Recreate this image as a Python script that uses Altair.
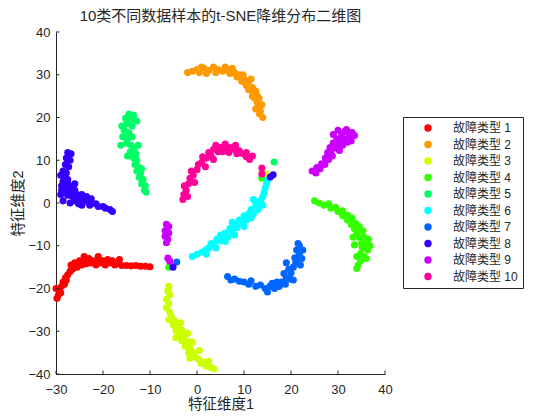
import altair as alt
import pandas as pd

# ---- data (t-SNE coordinates per fault class) ----
class_names = ["故障类型 1", "故障类型 2", "故障类型 3", "故障类型 4", "故障类型 5",
               "故障类型 6", "故障类型 7", "故障类型 8", "故障类型 9", "故障类型 10"]
class_colors = ["#ff0000", "#ff9900", "#ccff00", "#33ff00", "#00ff66",
                "#00ffff", "#0066ff", "#3300ff", "#cc00ff", "#ff0099"]

c1 = [(-29.5, -21.5), (-29.3, -20.5), (-29, -21), (-28.8, -19.5), (-28.5, -18.5), (-28.2, -19),
      (-28, -17.5), (-27.5, -16.8), (-27.8, -18), (-27, -16), (-26.5, -15.5), (-26.8, -14.5),
      (-26, -14), (-25.5, -15), (-25, -13.5), (-24.5, -14.5), (-24, -13.2), (-23.5, -14.2),
      (-23, -13), (-22.5, -14), (-22, -13.5), (-21.5, -14.5), (-21, -13.2), (-20.5, -14),
      (-20, -13.5), (-19.5, -14.5), (-19, -13.2), (-18.5, -14), (-18, -13.5), (-17.5, -14.5),
      (-17, -14.2), (-16, -14.6), (-15, -14.6), (-14, -14.7), (-13, -14.6), (-12, -14.8),
      (-11, -14.8), (-10, -14.9), (-30, -20), (-29.8, -22.3), (-24, -12.5), (-21, -12.5),
      (-16.5, -13.2)]
c2 = [(-2, 30.5), (-1, 30.8), (0, 31.2), (0.5, 30.5), (1.5, 31.5), (2.5, 31), (3.5, 31.8),
      (4.5, 31.2), (5.5, 30.8), (6.5, 31.2), (7, 30.3), (8, 30.5), (8.5, 29.5), (9, 30),
      (9.5, 28.5), (10, 29), (10.5, 27.5), (11, 28.5), (11, 26.5), (11.8, 27), (12, 25.5),
      (12.5, 26.2), (12.3, 24.5), (12.8, 23.5), (13, 22.5), (13.5, 21.5), (13.3, 20.8), (14, 20),
      (1, 31.8), (2, 30.3), (4, 30.5), (6, 31.8), (7.5, 31.5), (9.8, 30), (10.3, 28),
      (11.5, 29), (11.8, 25), (12.8, 25), (12.5, 22), (13.8, 23), (13.2, 24.5)]
c3 = [(-6, -19.5), (-6.2, -20.5), (-5.8, -21.5), (-6.5, -22.5), (-6, -23.5), (-6.5, -24.5),
      (-5.8, -25.5), (-5.5, -26.5), (-6, -27.3), (-4.8, -27.5), (-5, -28.5), (-4, -28.8),
      (-4.5, -29.8), (-3.2, -29.8), (-3.8, -31), (-2.8, -31.2), (-3.2, -32.3), (-2, -32.5),
      (-2.5, -33.5), (-1.5, -33.8), (-1.8, -35), (-0.8, -35), (-0.5, -36), (0.3, -36.5),
      (0.8, -37.5), (1.5, -37.2), (2, -38.2), (3, -38.5), (3.6, -38.8), (14.7, 6.8),
      (-3.5, -28), (-2, -30.5), (-1, -32.5), (-4.5, -31.5), (0.5, -34.5), (-1.5, -36.3),
      (2.5, -37)]
c4 = [(25, 0.5), (26, 0), (27, -0.5), (28, -0.2), (28.5, -1.2), (29.5, -1), (30, -2), (31, -1.8),
      (31, -3), (32, -2.8), (32, -4), (33, -3.5), (32.8, -5), (33.8, -4.8), (33.5, -6),
      (34.5, -5.5), (34, -7), (35.3, -6.5), (34.5, -8), (35.5, -8), (35, -9.5), (36, -9.5),
      (35.2, -10.5), (36.3, -11), (34.8, -11.8), (35.5, -12.5), (34.8, -13.5), (34.3, -14.5),
      (34, -15.3), (-6, -15), (13.8, 5.8), (33.2, -8), (33.5, -9.8), (36.8, -10),
      (36.5, -8.5), (34, -12.5), (36, -13)]
c5 = [(-14.5, 20.8), (-13.5, 20.5), (-15.2, 19.8), (-14, 19.5), (-15, 18.5), (-13.8, 18),
      (-15.5, 17), (-14.5, 16.5), (-15.8, 15.5), (-14.8, 15), (-13.8, 15.5), (-15, 14),
      (-14, 13.5), (-13.5, 12.5), (-14.2, 12), (-13, 11.5), (-13.5, 10.5), (-12.8, 10),
      (-13.2, 9), (-12.5, 8.5), (-12.8, 7.5), (-12, 7), (-12.3, 6), (-11.5, 5.5), (-11.8, 4.5),
      (-11, 4), (-11.2, 3), (-10.8, 2.5), (16.4, 9.6), (-16, 18), (-12.8, 19.2),
      (-16.2, 13.5), (-12.5, 13.5), (-14.8, 11), (-11.8, 8)]
c6 = [(-1, -12.5), (0, -12), (1, -11.5), (1.8, -11), (2.5, -10.5), (3, -9.5), (3.8, -9.8),
      (4.2, -8.5), (5, -8.8), (5, -7.5), (6, -7), (6.5, -8), (7, -6), (7.5, -6.8), (8, -5),
      (8.5, -5.8), (9, -4), (9.5, -4.8), (10, -3), (10.5, -4), (11, -2.5), (11.5, -1.5),
      (12, -2.5), (12.5, -0.5), (13, -1.5), (13.5, 0.5), (14, 1.5), (14.3, 2.5), (14.5, 3.5),
      (14.8, 4.5), (15, 5.3), (2, -12), (4, -10.5), (6, -9), (8, -7.5), (10, -5.5),
      (11.5, -3.5), (13, 0), (14, -0.5), (7.5, -4.5), (12, 0.8)]
c7 = [(6.5, -17.2), (7.2, -18), (8, -17.8), (9, -18.3), (10, -18.5), (11, -19), (11.5, -18.2),
      (12.5, -19.5), (13.5, -19.2), (14.5, -20), (15, -20.8), (15.5, -19.5), (16.5, -20),
      (17.5, -19.5), (18, -18.5), (18.8, -19), (19, -17.5), (19.8, -17.8), (20, -16.3),
      (20.5, -15), (19.5, -15.5), (21, -14), (21.5, -13), (20.8, -12.8), (21.8, -11.8),
      (21.2, -11), (21.8, -10), (21.5, -9.5), (-4.3, -13.8), (19, -14), (22.3, -13),
      (22.5, -11), (18.5, -16.5), (17, -18.5), (16, -18.8), (20.5, -18), (22, -14.5)]
c8 = [(-27.5, 11.8), (-26.8, 11.5), (-27.8, 10.5), (-27, 10), (-28, 9), (-27.3, 8.5),
      (-28.5, 7.5), (-27.8, 7), (-29, 6.5), (-28.2, 6), (-27.5, 5.5), (-28.5, 5), (-27.5, 4.5),
      (-28.8, 4), (-27.8, 3.5), (-26.5, 3.8), (-28, 2.5), (-27, 2.8), (-26, 3), (-25.5, 2),
      (-26.5, 1.5), (-27.5, 1.8), (-25, 1), (-24.5, 2), (-24, 0.5), (-23.5, 1.5), (-23, 0),
      (-22.5, 1), (-22.8, -0.5), (-21.5, -0.2), (-21, -0.8), (-20, -0.8), (-19.5, -1.2),
      (-18.5, -1.5), (-18, -2), (-5.1, -15), (16.2, 6.6), (15.6, 6.1), (-29, 2),
      (-28.5, 0.5), (-26, 0.5), (-24.5, -0.5), (-28.8, 3), (-26, 4.5), (-25.2, -0.2), (-27, 0)]
c9 = [(24.5, 7.5), (25.3, 7), (25.5, 8.3), (26.2, 8), (26.5, 9.2), (27.2, 9), (27.3, 10.5),
      (28, 10.2), (27.8, 11.8), (28.5, 11.5), (28.3, 13), (29.2, 12.8), (29, 14), (30, 13.5),
      (29.8, 15), (30.5, 14.5), (30.8, 16), (31.3, 15), (31.5, 16.8), (32.2, 16.5),
      (32.5, 15.8), (33, 16.5), (33.5, 15.8), (32, 14.2), (31, 13.5),
      (-6.5, -5), (-6, -5.5), (-6.8, -6.5), (-6, -7), (-6.8, -7.8), (-6.2, -8.5), (-6.5, -9.3),
      (-6.2, -12.9), (-5.8, -13.6), (29, 16), (30, 17), (32.8, 14.5), (28.8, 11),
      (30.3, 12.3), (31.8, 17.2)]
c10 = [(-3, 0.8), (-2.8, 2), (-2.3, 3), (-2.7, 4), (-1.8, 4.5), (-1.5, 5.8), (-0.8, 6.5),
       (-1.2, 7.5), (0, 7.8), (0.3, 9), (1, 9.5), (1.2, 10.8), (2, 10.5), (2.5, 11.8), (3, 11),
       (3.5, 12.5), (4, 13.5), (4.5, 12), (5, 13), (5.5, 12), (6, 12.5), (6.8, 11.8), (7, 13),
       (8, 12.5), (8.5, 11.5), (9, 12.2), (9.8, 11.5), (10.5, 10.8), (11.2, 10.2),
       (13.8, 8.2), (13.8, 6.8), (-2, 1.5), (-0.5, 4.8), (1.8, 8.5), (3.5, 10.2), (6, 13.8),
       (8.2, 13.5), (10.5, 11.8), (11.8, 11)]

clusters = [c1, c2, c3, c4, c5, c6, c7, c8, c9, c10]

x_ticks = [-30, -20, -10, 0, 10, 20, 30, 40]
y_ticks = [-40, -30, -20, -10, 0, 10, 20, 30, 40]

# ---- build tables ----
rows = []
for name, pts in zip(class_names, clusters):
    for (px, py) in pts:
        rows.append({"x": px, "y": py, "cls": name})
df = pd.DataFrame(rows)
df_xt = pd.DataFrame({"x": x_ticks})
df_yt = pd.DataFrame({"y": y_ticks})

FONT = "Liberation Sans, Noto Sans CJK SC"
INK = "#262626"
W, H = 329, 342

xscale = alt.Scale(domain=[-30, 40], nice=False, zero=False)
yscale = alt.Scale(domain=[-40, 40], nice=False, zero=False)

xaxis = alt.Axis(values=x_ticks, ticks=False, tickSize=0, grid=False,
                 labelFlush=False, labelOverlap=False, labelBound=False,
                 domainColor=INK, labelColor=INK, labelFontSize=13, labelFont=FONT,
                 labelPadding=9, title="特征维度1", titleFont=FONT,
                 titleFontSize=14.5, titleFontWeight="normal", titleColor=INK,
                 titlePadding=1)
yaxis = alt.Axis(values=y_ticks, ticks=False, tickSize=0, grid=False,
                 labelFlush=False, labelOverlap=False, labelBound=False,
                 domainColor=INK, labelColor=INK, labelFontSize=13, labelFont=FONT,
                 labelPadding=6, title="特征维度2", titleFont=FONT,
                 titleFontSize=14.5, titleFontWeight="normal", titleColor=INK,
                 titlePadding=2)

points = alt.Chart(df).mark_circle(size=50, opacity=1).encode(
    x=alt.X("x:Q", scale=xscale, axis=xaxis),
    y=alt.Y("y:Q", scale=yscale, axis=yaxis),
    color=alt.Color("cls:N",
                    scale=alt.Scale(domain=class_names, range=class_colors),
                    legend=alt.Legend(title=None, orient="none", legendX=347, legendY=85,
                                      strokeColor=INK, fillColor="white", padding=5,
                                      symbolType="circle", symbolSize=55, symbolOffset=14,
                                      symbolStrokeWidth=0,
                                      labelOffset=19, labelFontSize=12, labelFont=FONT,
                                      labelColor=INK, rowPadding=4.5)),
)

xt = alt.Chart(df_xt).mark_rule(color=INK, strokeWidth=1).encode(
    x=alt.X("x:Q", scale=xscale, axis=xaxis),
    y=alt.value(H), y2=alt.value(H - 3.5),
)
yt = alt.Chart(df_yt).mark_rule(color=INK, strokeWidth=1).encode(
    y=alt.Y("y:Q", scale=yscale, axis=yaxis),
    x=alt.value(0), x2=alt.value(3.5),
)

chart = alt.layer(points, xt, yt).properties(
    width=W, height=H,
    view=alt.ViewBackground(stroke="white", strokeOpacity=0, strokeWidth=0),
    title=alt.TitleParams("10类不同数据样本的t-SNE降维分布二维图", font=FONT, fontSize=15,
                          fontWeight="normal", color=INK, anchor="middle", frame="group",
                          offset=2),
    autosize=alt.AutoSizeParams(type="none"),
    padding={"left": 48, "top": 24, "right": 167, "bottom": 38},
).configure_view(stroke="transparent", strokeWidth=0).configure(background="white")

chart.save("out.html", embed_options={"renderer": "svg", "actions": False})
